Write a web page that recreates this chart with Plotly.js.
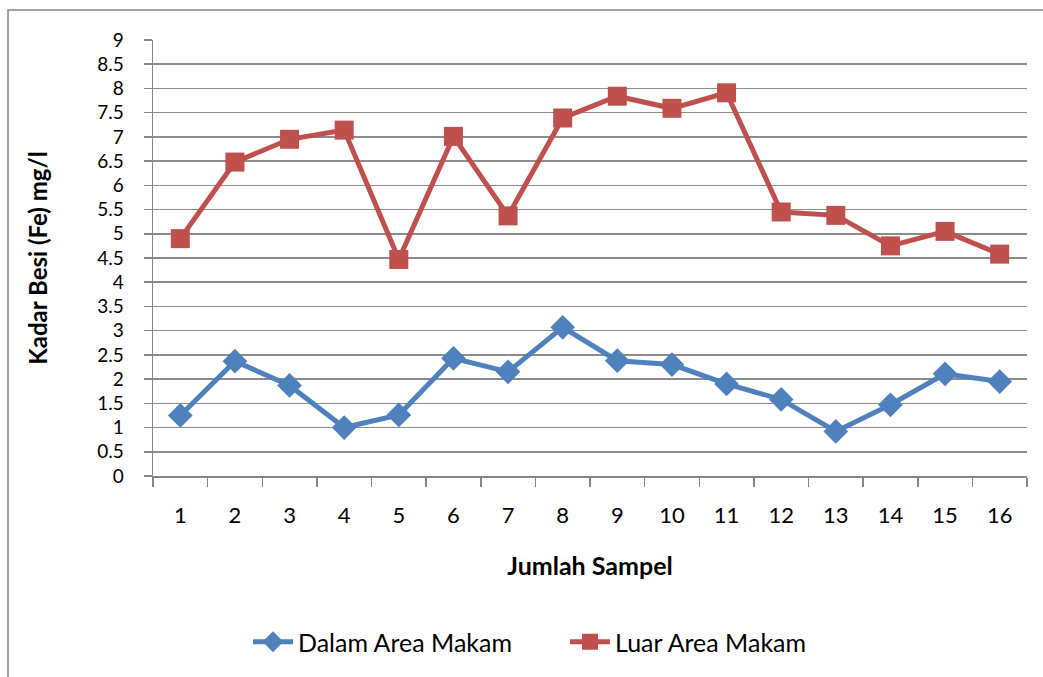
<!DOCTYPE html>
<html>
<head>
<meta charset="utf-8">
<script src="https://cdn.plot.ly/plotly-3.0.1.min.js"></script>
<style>
html,body{margin:0;padding:0;background:#fff;}
#chart{width:1043px;height:677px;}
</style>
</head>
<body>
<div id="chart"></div>
<script>
const categories = ["1","2","3","4","5","6","7","8","9","10","11","12","13","14","15","16"];
const dalamArea = [1.25, 2.37, 1.87, 1.00, 1.26, 2.43, 2.15, 3.07, 2.38, 2.30, 1.90, 1.58, 0.92, 1.47, 2.11, 1.95];
const luarArea = [4.90, 6.48, 6.95, 7.14, 4.47, 7.01, 5.37, 7.39, 7.84, 7.59, 7.91, 5.45, 5.38, 4.75, 5.05, 4.58];
const yTickVals = [0,0.5,1,1.5,2,2.5,3,3.5,4,4.5,5,5.5,6,6.5,7,7.5,8,8.5,9];
const yTickText = ["0","0.5","1","1.5","2","2.5","3","3.5","4","4.5","5","5.5","6","6.5","7","7.5","8","8.5","9"];

const fontFam = "Lato, 'Open Sans', sans-serif";

const traces = [
  {
    x: categories, y: dalamArea, name: "Dalam Area Makam", type: "scatter", mode: "lines+markers",
    line: {color: "#4F81BD", width: 5},
    marker: {symbol: "diamond", size: 19, color: "#4F81BD"}
  },
  {
    x: categories, y: luarArea, name: "Luar Area Makam", type: "scatter", mode: "lines+markers",
    line: {color: "#C0504D", width: 5},
    marker: {symbol: "square", size: 19, color: "#C0504D"}
  }
];

const L = 153, R = 1027, T = 40, B = 476;
const pw = R - L, ph = B - T;

const layout = {
  width: 1043, height: 677,
  margin: {l: L, r: 1043 - R, t: T, b: 677 - B},
  paper_bgcolor: "#fff", plot_bgcolor: "#fff",
  font: {family: fontFam, size: 22, color: "#000"},
  showlegend: true,
  legend: {
    orientation: "h", x: (248 - L) / pw, xanchor: "left",
    y: (B - 642) / ph, yanchor: "middle",
    font: {family: fontFam, size: 25, color: "#000"},
    entrywidth: 262, entrywidthmode: "pixels",
    itemwidth: 40, tracegroupgap: 0
  },
  xaxis: {
    type: "category",
    range: [-0.5, 15.5],
    tickson: "boundaries",
    ticks: "outside", ticklen: 9, tickcolor: "#868686", tickwidth: 1.5,
    ticklabelstandoff: 19,
    showline: true, linecolor: "#868686", linewidth: 1.5,
    showgrid: false, zeroline: false,
    tickfont: {family: fontFam, size: 22},
    title: {text: "<b>Jumlah Sampel</b>", font: {family: fontFam, size: 25}, standoff: 30},
    fixedrange: true
  },
  yaxis: {
    range: [0, 9], tickvals: yTickVals, ticktext: yTickText,
    ticks: "outside", ticklen: 8, tickcolor: "#868686", tickwidth: 1.5,
    ticklabelstandoff: 16,
    showline: true, linecolor: "#868686", linewidth: 1.5,
    showgrid: true, gridcolor: "#8c8c8c", gridwidth: 1.5,
    zeroline: false,
    tickfont: {family: fontFam, size: 19},
    title: {text: "<b>Kadar Besi (Fe) mg/l</b>", font: {family: fontFam, size: 24}, standoff: 43},
    fixedrange: true
  },
  shapes: [
    {
      type: "rect", xref: "paper", yref: "paper",
      x0: (8 - L) / pw, x1: (1060 - L) / pw,
      y0: (B - 700) / ph, y1: (B - 10) / ph,
      line: {color: "#868686", width: 1.5}, fillcolor: "rgba(0,0,0,0)", layer: "below"
    }
  ]
};

Plotly.newPlot("chart", traces, layout, {displayModeBar: false, staticPlot: true});
</script>
</body>
</html>
